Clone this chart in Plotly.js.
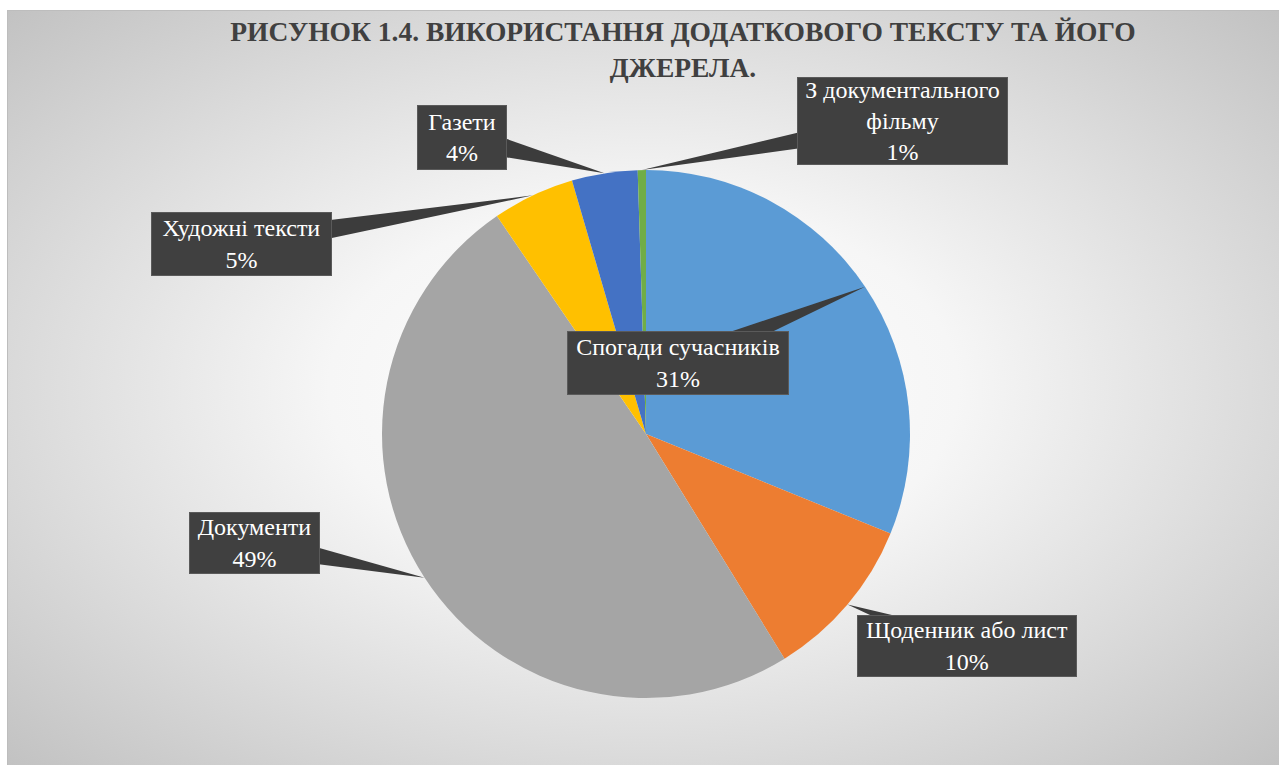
<!DOCTYPE html>
<html>
<head>
<meta charset="utf-8">
<script src="https://cdn.plot.ly/plotly-3.0.1.min.js"></script>
<style>
  html, body { margin: 0; padding: 0; background: #ffffff; }
  #frame { position: absolute; left: 7px; top: 10px; width: 1272px; height: 755px;
    background: radial-gradient(ellipse farthest-corner at 50% 50%, #ffffff 0%, #f6f6f6 35%, #c2c2c2 100%);
    border-top: 1px solid #bdbdbd; border-left: 1px solid #bdbdbd; box-sizing: border-box; }
  #chart { position: absolute; left: 0; top: 0; width: 1279px; height: 765px; }
</style>
</head>
<body>
<div id="frame"></div>
<div id="chart"></div>
<script>
// ---- data ----
const categories = ['Спогади сучасників', 'Щоденник або лист', 'Документи', 'Художні тексти', 'Газети', 'З документального фільму'];
const labelLines = ['Спогади сучасників', 'Щоденник або лист', 'Документи', 'Художні тексти', 'Газети', 'З документального<br>фільму'];
const values = [31, 10, 49, 5, 4, 0.5];
const colors = ['#5B9BD5', '#ED7D31', '#A5A5A5', '#FFC000', '#4472C4', '#70AD47'];

// ---- layout constants (pixels) ----
const W = 1279, H = 765;
const CX = 646, CY = 434, R = 264;
const FONT = '"Times New Roman", "Liberation Serif", Tinos, serif';
// callout boxes: centre x, centre y, width, height
const boxes = [
  [678, 363, 222, 64],
  [967, 646, 220, 62],
  [254, 543, 131, 62],
  [241, 244, 181, 64],
  [462, 137, 90, 65],
  [902, 121, 211, 88]
];

const total = values.reduce((a, b) => a + b, 0);
const px = x => x / W;
const py = y => 1 - y / H;

const shapes = [];
const annotations = [];
let cum = 0;
values.forEach((v, i) => {
  const mid = (cum + v / 2) / total * 2 * Math.PI;
  cum += v;
  const tx = CX + R * Math.sin(mid);
  const ty = CY - R * Math.cos(mid);
  const [bx, by, bw, bh] = boxes[i];
  const dx = bx - tx, dy = by - ty;
  const len = Math.hypot(dx, dy);
  const nx = -dy / len, ny = dx / len;
  const hw = 13;
  const p1 = [bx + nx * hw, by + ny * hw];
  const p2 = [bx - nx * hw, by - ny * hw];
  shapes.push({
    type: 'path', xref: 'paper', yref: 'paper', layer: 'above',
    path: `M ${px(tx)} ${py(ty)} L ${px(p1[0])} ${py(p1[1])} L ${px(p2[0])} ${py(p2[1])} Z`,
    fillcolor: '#3c3c3c', line: { width: 0 }
  });
  const pct = Math.round(v / total * 100) + '%';
  annotations.push({
    xref: 'paper', yref: 'paper', x: px(bx), y: py(by),
    xanchor: 'center', yanchor: 'middle', showarrow: false,
    text: labelLines[i] + '<br>' + pct,
    width: bw - 2, height: bh - 2, borderpad: 0,
    bgcolor: '#404040', bordercolor: '#5a5a5a', borderwidth: 1,
    font: { family: FONT, size: 24, color: '#ffffff' }
  });
});

const trace = {
  type: 'pie',
  labels: categories,
  values: values,
  sort: false,
  direction: 'clockwise',
  rotation: 0,
  marker: { colors: colors, line: { width: 0 } },
  textinfo: 'none',
  hoverinfo: 'label+percent',
  showlegend: false,
  domain: { x: [px(CX - R), px(CX + R)], y: [py(CY + R), py(CY - R)] }
};

const layout = {
  width: W, height: H,
  margin: { l: 0, r: 0, t: 0, b: 0 },
  paper_bgcolor: 'rgba(0,0,0,0)',
  plot_bgcolor: 'rgba(0,0,0,0)',
  font: { family: FONT },
  title: {
    text: '<b>РИСУНОК 1.4. ВИКОРИСТАННЯ ДОДАТКОВОГО ТЕКСТУ ТА ЙОГО<br>ДЖЕРЕЛА.</b>',
    font: { family: FONT, size: 27.5, color: '#404040' },
    x: 683 / W, xanchor: 'center', y: 1 - 41 / H, yanchor: 'middle'
  },
  shapes: shapes,
  annotations: annotations
};

Plotly.newPlot('chart', [trace], layout, { displayModeBar: false, staticPlot: true });
</script>
</body>
</html>
